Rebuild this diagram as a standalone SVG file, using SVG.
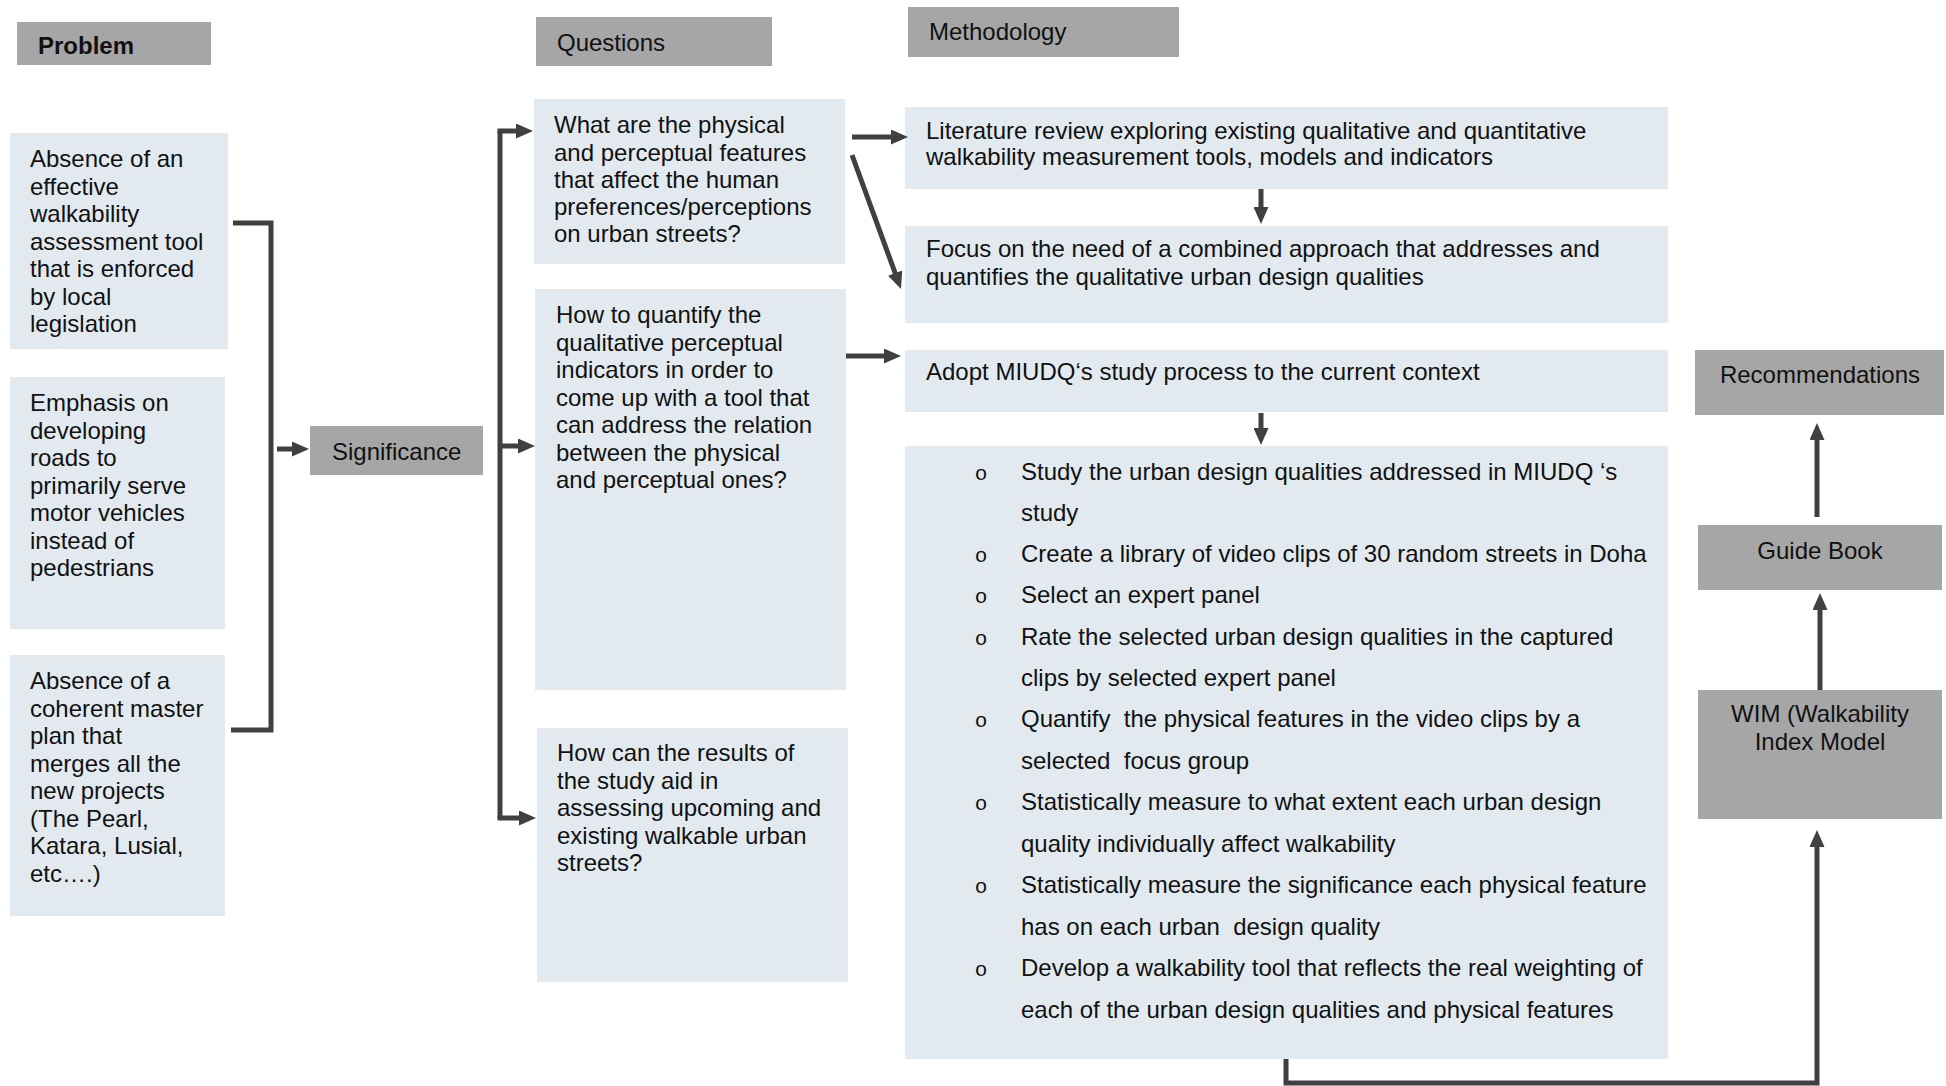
<svg xmlns="http://www.w3.org/2000/svg" width="1946" height="1086" viewBox="0 0 1946 1086">
<style>
.box{fill:#E2EAF0}
.hdr{fill:#A6A6A6}
text{font-family:"Liberation Sans",Arial,sans-serif;font-size:24px;fill:#111}
.b{font-weight:bold}
.c{text-anchor:middle}
.bul{font-family:"Liberation Mono","Courier New",monospace;font-size:21px;text-anchor:middle}
.ln{stroke:#404040;stroke-width:5;fill:none}
</style>
<defs>
<marker id="ah" markerWidth="17" markerHeight="15" refX="1" refY="7.5" orient="auto" markerUnits="userSpaceOnUse">
<path d="M0,0 L17,7.5 L0,15 z" fill="#404040"/>
</marker>
</defs>
<rect width="1946" height="1086" fill="#fff"/>

<g id="problem-header"><rect class="hdr" x="17" y="22" width="194" height="43"/><text class="b" x="38" y="54">Problem</text></g>
<g id="problem-1"><rect class="box" x="10" y="133" width="218" height="216"/>
<text x="30" y="167">Absence of an</text><text x="30" y="194.5">effective</text><text x="30" y="222">walkability</text><text x="30" y="249.5">assessment tool</text><text x="30" y="277">that is enforced</text><text x="30" y="304.5">by local</text><text x="30" y="332">legislation</text></g>
<g id="problem-2"><rect class="box" x="10" y="377" width="215" height="252"/>
<text x="30" y="411">Emphasis on</text><text x="30" y="438.5">developing</text><text x="30" y="466">roads to</text><text x="30" y="493.5">primarily serve</text><text x="30" y="521">motor vehicles</text><text x="30" y="548.5">instead of</text><text x="30" y="576">pedestrians</text></g>
<g id="problem-3"><rect class="box" x="10" y="655" width="215" height="261"/>
<text x="30" y="689">Absence of a</text><text x="30" y="716.5">coherent master</text><text x="30" y="744">plan that</text><text x="30" y="771.5">merges all the</text><text x="30" y="799">new projects</text><text x="30" y="826.5">(The Pearl,</text><text x="30" y="854">Katara, Lusial,</text><text x="30" y="881.5">etc….)</text></g>
<g id="significance"><rect class="hdr" x="310" y="426" width="173" height="49"/><text x="332" y="460">Significance</text></g>

<g id="questions-header"><rect class="hdr" x="536" y="17" width="236" height="49"/><text x="557" y="51">Questions</text></g>
<g id="question-1"><rect class="box" x="534" y="99" width="311" height="165"/>
<text x="554" y="133">What are the physical</text><text x="554" y="160.5">and perceptual features</text><text x="554" y="188">that affect the human</text><text x="554" y="215">preferences/perceptions</text><text x="554" y="242">on urban streets?</text></g>
<g id="question-2"><rect class="box" x="535" y="289" width="311" height="401"/>
<text x="556" y="323">How to quantify the</text><text x="556" y="350.5">qualitative perceptual</text><text x="556" y="378">indicators in order to</text><text x="556" y="405.5">come up with a tool that</text><text x="556" y="433">can address the relation</text><text x="556" y="460.5">between the physical</text><text x="556" y="488">and perceptual ones?</text></g>
<g id="question-3"><rect class="box" x="537" y="728" width="311" height="254"/>
<text x="557" y="761">How can the results of</text><text x="557" y="788.5">the study aid in</text><text x="557" y="816">assessing upcoming and</text><text x="557" y="843.5">existing walkable urban</text><text x="557" y="871">streets?</text></g>

<g id="methodology-header"><rect class="hdr" x="908" y="7" width="271" height="50"/><text x="929" y="40">Methodology</text></g>
<g id="method-1"><rect class="box" x="905" y="107" width="763" height="82"/>
<text x="926" y="139">Literature review exploring existing qualitative and quantitative</text><text x="926" y="165">walkability measurement tools, models and indicators</text></g>
<g id="method-2"><rect class="box" x="905" y="226" width="763" height="97"/>
<text x="926" y="257">Focus on the need of a combined approach that addresses and</text><text x="926" y="285">quantifies the qualitative urban design qualities</text></g>
<g id="method-3"><rect class="box" x="905" y="350" width="763" height="62"/>
<text x="926" y="380">Adopt MIUDQ‘s study process to the current context</text></g>
<g id="method-4"><rect class="box" x="905" y="446" width="763" height="613"/>
<text class="bul" x="981" y="480">o</text><text x="1021" y="480">Study the urban design qualities addressed in MIUDQ ‘s</text>
<text x="1021" y="521">study</text>
<text class="bul" x="981" y="562">o</text><text x="1021" y="562">Create a library of video clips of 30 random streets in Doha</text>
<text class="bul" x="981" y="603">o</text><text x="1021" y="603">Select an expert panel</text>
<text class="bul" x="981" y="645">o</text><text x="1021" y="645">Rate the selected urban design qualities in the captured</text>
<text x="1021" y="686">clips by selected expert panel</text>
<text class="bul" x="981" y="727">o</text><text x="1021" y="727" xml:space="preserve">Quantify  the physical features in the video clips by a</text>
<text x="1021" y="769" xml:space="preserve">selected  focus group</text>
<text class="bul" x="981" y="810">o</text><text x="1021" y="810">Statistically measure to what extent each urban design</text>
<text x="1021" y="852">quality individually affect walkability</text>
<text class="bul" x="981" y="893">o</text><text x="1021" y="893">Statistically measure the significance each physical feature</text>
<text x="1021" y="935" xml:space="preserve">has on each urban  design quality</text>
<text class="bul" x="981" y="976">o</text><text x="1021" y="976">Develop a walkability tool that reflects the real weighting of</text>
<text x="1021" y="1018">each of the urban design qualities and physical features</text></g>

<g id="recommendations"><rect class="hdr" x="1695" y="350" width="249" height="65"/><text class="c" x="1820" y="383">Recommendations</text></g>
<g id="guide-book"><rect class="hdr" x="1698" y="525" width="244" height="65"/><text class="c" x="1820" y="559">Guide Book</text></g>
<g id="wim"><rect class="hdr" x="1698" y="690" width="244" height="129"/><text class="c" x="1820" y="722">WIM (Walkability</text><text class="c" x="1820" y="750">Index Model</text></g>

<g id="connectors">
<path class="ln" d="M233,223 H271 V730 H231"/>
<path class="ln" d="M277,449 H293" marker-end="url(#ah)"/>
<path class="ln" d="M500,131 V818"/>
<path class="ln" d="M497.5,131 H517" marker-end="url(#ah)"/>
<path class="ln" d="M500,446 H519" marker-end="url(#ah)"/>
<path class="ln" d="M497.5,818 H520" marker-end="url(#ah)"/>
<path class="ln" d="M852,137 H892" marker-end="url(#ah)"/>
<path class="ln" d="M852,155 L895.5,274" marker-end="url(#ah)"/>
<path class="ln" d="M846,356 H885" marker-end="url(#ah)"/>
<path class="ln" d="M1261,189 V208" marker-end="url(#ah)"/>
<path class="ln" d="M1261,413 V429" marker-end="url(#ah)"/>
<path class="ln" d="M1286,1059 V1083 H1817 V846" marker-end="url(#ah)"/>
<path class="ln" d="M1820,690 V609" marker-end="url(#ah)"/>
<path class="ln" d="M1817,517 V439" marker-end="url(#ah)"/>
</g>
</svg>
